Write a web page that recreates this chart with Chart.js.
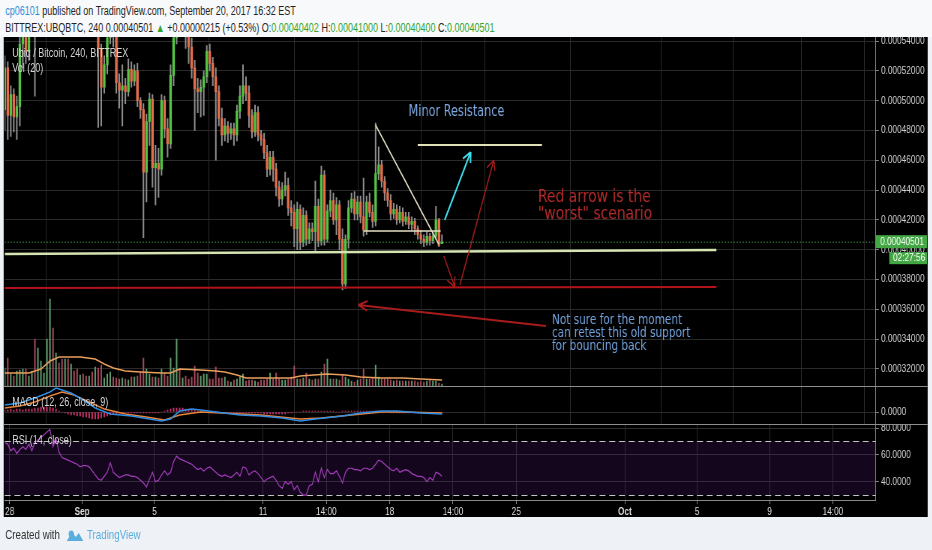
<!DOCTYPE html>
<html>
<head>
<meta charset="utf-8">
<script src="https://cdn.jsdelivr.net/npm/chart.js@4.4.0/dist/chart.umd.min.js"></script>
<style>
  body { margin: 0; width: 932px; height: 550px; background: #eef1f5; position: relative; overflow: hidden; }
  /* a captura original é comprimida na horizontal: desenhamos largo e comprimimos */
  #tela { position: absolute; left: 0; top: 0; width: 1243px; height: 550px; transform: scaleX(0.75); transform-origin: 0 0;
          font-family: "Liberation Sans", Arial, sans-serif; }
  #cabecalho { position: absolute; left: 0; top: 0; width: 1243px; height: 37px; background: #f8f9fb; }
  #cabecalho div { position: absolute; left: 7px; font-size: 12px; color: #222; white-space: nowrap; }
  .autor { color: #2a8fd8; }
  .verde { color: #2fa52f; }
  #painel { position: absolute; left: 5.33px; top: 37px; width: 1232px; height: 480px; background: #000; }
  #painel canvas { position: absolute; left: 0; }
  .legenda { position: absolute; left: 11px; font-size: 12px; color: #d4d4d4; white-space: nowrap; }
  #rodape { position: absolute; left: 7px; top: 527px; font-size: 13px; color: #333; white-space: nowrap; }
  #rodape span { color: #5aaede; }
  #rodape svg { vertical-align: -3px; margin: 0 4px 0 8px; }
</style>
</head>
<body>
<div id="tela">
  <div id="cabecalho">
    <div style="top:4px"><span class="autor">cp06101</span> published on TradingView.com, September 20, 2017 16:32 EST</div>
    <div style="top:21px">BITTREX:UBQBTC, 240 0.00040501 <span class="verde">▲</span> +0.00000215 (+0.53%) O:<span class="verde">0.00040402</span> H:<span class="verde">0.00041000</span> L:<span class="verde">0.00040400</span> C:<span class="verde">0.00040501</span></div>
  </div>

  <div id="painel">
    <canvas id="graficoPreco" width="1232" height="349" style="top:0"></canvas>
    <canvas id="graficoMacd" width="1232" height="38" style="top:349px"></canvas>
    <canvas id="graficoRsi" width="1232" height="93" style="top:387px"></canvas>
    <div class="legenda" style="top:9px">Ubiq / Bitcoin, 240, BITTREX</div>
    <div class="legenda" style="top:24px">Vol (20)</div>
    <div class="legenda" style="top:358px">MACD (12, 26, close, 9)</div>
    <div class="legenda" style="top:396px">RSI (14, close)</div>
  </div>

  <div id="rodape">Created with<svg width="24" height="14" viewBox="0 0 24 14"><path d="M1 13 L8 4 L13 9 L17 5 L23 13 Z" fill="#5aaede"/><circle cx="7" cy="6" r="3.5" fill="#5aaede"/></svg><span>TradingView</span></div>
</div>

<script>
// 📅 Eixo de tempo: dias contados a partir de 28 de agosto (dia 0), candles de 4 horas
const INICIO = -0.276;
const diasTicks = [0, 4, 8, 14, 17.5, 21, 24.5, 28, 34, 38, 42, 45.5];
const rotulosTicks = ['28', 'Sep', '5', '11', '14:00', '18', '14:00', '25', 'Oct', '5', '9', '14:00'];

// 💰 Preços em satoshis (1e-8 BTC)
const ticksPreco = [32000, 34000, 36000, 38000, 40000, 42000, 44000, 46000, 48000, 50000, 52000, 54000];
const abertura = [
  49400,52200,49000,50400,48900,49600,53800,55200,53300,55500,
  56800,55600,57500,58600,59400,60800,61500,60500,61800,60200,
  59300,59800,58700,59200,58100,57600,58200,57300,56800,57400,
  56500,56900,53500,50900,52400,54200,55500,54600,51200,50700,
  51000,50600,52100,51300,52000,50000,49400,45200,48600,50100,
  45500,45800,45400,50000,48100,47100,51700,54200,56000,55200,
  56500,54800,53600,52200,50800,50600,50900,51600,53300,52500,
  51600,50600,48800,47700,48300,47800,48100,47700,49300,50300,
  51000,50500,49000,47900,49200,47700,47400,46500,45400,46200,
  45400,44200,43400,44000,44300,42800,42500,41400,42700,40500,
  42300,40700,41400,41200,42900,40600,45000,40700,42600,43300,
  42000,43000,40700,37700,40700,42800,43400,42400,43200,42200,
  41300,43200,42500,41900,45100,45700,44600,43800,43300,42400,
  42700,42000,42500,41900,42200,41700,41900,41400,41000,40700,
  40500,40900,40600,40900,42000,40402
];
const maxima = [
  53000,52600,51000,50800,50300,54800,56000,56500,57000,58000,
  58500,58200,59300,60100,61600,62400,62000,62800,62300,60900,
  60500,60200,59900,59600,58600,58800,58500,57700,57900,57800,
  57400,57500,53800,53000,55000,56500,56200,55000,51800,52400,
  51500,52800,52600,52400,52500,50200,49800,49100,50500,50400,
  47000,46800,50400,50300,48800,52400,55500,57000,57500,57200,
  57000,55200,54200,52700,51500,51400,52000,53700,53800,52900,
  52200,51000,49500,48800,48600,48500,48500,49700,51000,52400,
  51600,51000,49400,49700,49600,48000,47800,47000,46600,46600,
  45800,44600,44500,45200,44800,43300,43000,43200,43000,42800,
  42600,41800,41800,44600,43400,45600,45300,43000,44000,43800,
  43500,43300,41400,41000,43300,43800,43900,43600,43600,44800,
  43600,43800,43000,48500,46900,46000,44900,44100,43700,43100,
  43000,42900,42800,42500,42500,42200,42100,41600,41300,41000,
  41200,41100,41200,42900,42100,41000
];
const minima = [
  48000,47400,47600,47900,47400,48300,52200,52500,52700,54800,
  50300,55000,56800,57900,58800,60000,59700,60100,59600,58700,
  58800,58100,58300,57600,57000,57200,56800,56200,56400,55900,
  55800,48200,48300,50500,51800,53800,53600,50500,49500,48300,
  49800,50300,50900,51000,49600,48800,40800,43200,47000,44200,
  43000,43500,45000,47500,46200,46800,51000,53800,54600,54800,
  53500,52500,51500,48000,49200,48900,49000,51200,52000,51000,
  46000,48300,47000,47300,47200,47400,47000,47300,48800,49800,
  50000,48200,47500,47600,47300,47000,46100,44900,45000,44600,
  43600,42900,43000,43600,42300,41600,40200,40000,40000,40200,
  40300,40400,40600,39800,40200,40300,40300,40500,42200,41700,
  41000,40000,37300,37400,40100,42500,42000,42000,41800,40900,
  41000,42200,41500,41600,44700,44200,43300,42900,42000,42100,
  41700,41800,41600,41700,41400,41300,41000,40700,40400,40200,
  40300,40300,40400,40700,40200,40400
];
const fechamento = [
  52200,49000,50400,48900,49600,53800,55200,53300,55500,56800,
  55600,57500,58600,59400,60800,61500,60500,61800,60200,59300,
  59800,58700,59200,58100,57600,58200,57300,56800,57400,56500,
  56900,53500,50900,52400,54200,55500,54600,51200,50700,51000,
  50600,52100,51300,52000,50000,49400,45200,48600,50100,45500,
  45800,45400,50000,48100,47100,51700,54200,56000,55200,56500,
  54800,53600,52200,50800,50600,50900,51600,53300,52500,51600,
  50600,48800,47700,48300,47800,48100,47700,49300,50300,51000,
  50500,49000,47900,49200,47700,47400,46500,45400,46200,45400,
  44200,43400,44000,44300,42800,42500,41400,42700,40500,42300,
  40700,41400,41200,42900,40600,45000,40700,42600,43300,42000,
  43000,40700,37700,40700,42800,43400,42400,43200,42200,41300,
  43200,42500,41900,45100,45700,44600,43800,43300,42400,42700,
  42000,42500,41900,42200,41700,41900,41400,41000,40700,40500,
  40900,40600,40900,42000,40286,40501
];
const ultimoPreco = 40501;

// 📊 Volume e média de 20 períodos
const volume = [
  18,28,12,10,15,16,17,17,10,15, 47,38,25,13,47,87,58,33,23,27,
  27,27,22,15,17,11,12,10,10,14, 19,18,21,8,12,14,9,8,7,8,
  7,6,9,9,10,14,28,17,12,9, 9,8,17,13,10,28,18,47,17,8,
  10,7,9,20,13,10,12,12,7,7, 19,8,8,9,5,4,6,7,9,12,
  5,6,6,5,4,6,6,7,13,7, 13,7,6,6,7,9,20,7,7,8,
  13,7,6,7,7,14,22,27,7,7, 7,6,11,9,7,5,4,6,7,17,
  7,7,8,21,9,7,7,7,6,5, 6,5,5,5,5,5,5,4,5,4,
  5,6,5,5,3,2
];
const mediaVolIdx = [0, 8, 12, 15, 18, 25, 30, 33, 36, 40, 45, 52, 55, 58, 65, 70, 73, 77, 80, 85, 95, 98, 107, 113, 118, 125, 132, 138, 145];
const mediaVol = [13, 13, 17, 25, 29, 29, 27, 22, 18, 15, 14, 13, 13, 17, 16, 15, 14, 11, 8, 8, 8, 10, 12, 11, 9, 8, 8, 7, 6];

// 📉 MACD (unidades de 1e-6 BTC)
const macdIdx = [0, 5, 10, 15, 17, 22, 26, 30, 35, 42, 48, 52, 55, 58, 62, 65, 70, 78, 85, 92, 98, 103, 112, 118, 125, 130, 138, 145];
const macdLinha = [7, 9, 14, 20, 24, 19, 12, 4, -2, -4, -7, -9, -7, 1, 3, 2, 0, -3, -4, -6, -9, -7, -4, -1, 1, 1, -1, -2];
const sinalIdx = [0, 5, 10, 15, 19, 23, 28, 33, 40, 47, 53, 58, 65, 72, 85, 98, 105, 115, 125, 132, 145];
const sinalLinha = [4, 6, 10, 16, 20, 17, 10, 3, -2, -5, -8, -3, 0, -1, -3, -7, -6, -3, 0, 0, -1];
const histograma = [
  2,2,3,2,3,3,2,3,3,3, 4,4,5,5,5,5,4,3,1,0,
  -1,-2,-3,-3,-4,-4,-5,-5,-6,-7, -7,-7,-6,-5,-4,-3,-2,-2,-1,-1,
  -1,-1,-1,-1,-1,-1,-1,-1,-1,-1, -1,-1,0,1,2,3,4,4,4,4,
  3,3,2,2,1,1,0,0,-1,0, 1,0,-1,-1,-1,-1,-1,-1,-1,-1,
  -1,-1,-1,-1,-1,-1,-2,-2,-2,-2, -2,-2,-2,-2,-1,-1,0,0,0,1,
  1,1,1,1,1,1,1,1,1,1, 0,0,1,1,1,1,1,1,1,1,
  1,1,1,1,1,0,0,0,-1,-1, -1,-1,-1,-1,-1,-1,-1,-1,-1,-1,
  -1,-1,-1,-1,-1,-1
];
const ticksMacd = [0];

// 🟣 RSI (14)
const rsi = [
  69,68,63,65,61,64,66,64,68,63, 69,71,73,75,77,79,66,72,62,58,
  57,56,55,54,53,51,52,52,51,48, 45,42,41,44,47,54,47,45,43,44,
  45,45,44,44,43,41,39,36,42,47, 40,41,45,48,45,47,55,59,57,56,
  55,54,53,51,49,50,48,50,51,49, 47,45,44,45,44,43,45,47,44,51,
  50,45,47,48,46,43,40,42,43,44, 41,37,35,40,38,40,34,37,32,30,
  30,37,38,47,40,50,43,49,46,46, 48,44,39,47,50,50,49,49,48,50,
  50,49,50,53,56,55,53,51,49,48, 50,47,48,49,48,46,45,44,44,43,
  40,43,41,47,46,44
];
const ticksRsi = [40, 60, 80];

// ✏️ Desenhos do autor em coordenadas (dia, preço)
const desenhos = [
  { de: [-0.28, 39707], ate: [39.06, 39976], cor: '#d6e4b2', largura: 2.5 },
  { de: [-0.28, 37426], ate: [39.06, 37493], cor: '#b3141a', largura: 2 },
  { de: [20.22, 48364], ate: [23.71, 40379], cor: '#e6e0c4', largura: 1.5 },
  { de: [19.56, 41251], ate: [23.82, 41251], cor: '#e6e0c4', largura: 1.5 },
  { de: [22.55, 47022], ate: [29.42, 47022], cor: '#e2e2b8', largura: 2 },
  { de: [24.04, 41989], ate: [25.48, 46552], cor: '#3fe0f0', largura: 2, seta: true },
  { de: [23.99, 39573], ate: [24.6, 37493], cor: '#a81c1c', largura: 1.5, seta: true },
  { de: [24.88, 37627], ate: [26.76, 46015], cor: '#a81c1c', largura: 1.5, seta: true },
  { de: [29.64, 34877], ate: [19.28, 36286], cor: '#a81c1c', largura: 2, seta: true }
];
const textos = [
  { texto: 'Minor Resistance', pos: [22.05, 49236], cor: '#7ea8e0', tam: 15 },
  { texto: 'Red arrow is the', pos: [29.2, 43532], cor: '#b42a2a', tam: 18.5 },
  { texto: '"worst" scenario', pos: [29.2, 42392], cor: '#b42a2a', tam: 18.5 },
  { texto: 'Not sure for the moment', pos: [29.97, 35279], cor: '#72a2dc', tam: 14 },
  { texto: 'can retest this old support', pos: [29.97, 34407], cor: '#72a2dc', tam: 14 },
  { texto: 'for bouncing back', pos: [29.97, 33535], cor: '#72a2dc', tam: 14 }
];

const FONTE = '"Liberation Sans", Arial, sans-serif';
const FONTE_TEXTO = '"DejaVu Sans", Verdana, sans-serif';
const GRADE = '#2b2b2b';
const EIXO = '#8a8a8a';
const VERDE = '#55c444';
const VERMELHO = '#e46e4c';

const dias = abertura.map((_, i) => INICIO + i / 6);
const sobe = abertura.map((a, i) => fechamento[i] >= a);

// eixo x comum aos três painéis
function eixoX(mostrarRotulos) {
  return {
    type: 'linear', min: -0.276, max: 47.87, offset: false,
    afterBuildTicks: s => { s.ticks = diasTicks.map(v => ({ value: v })); },
    afterFit: s => { s.height = mostrarRotulos ? 17 : 0; s.paddingLeft = 0; s.paddingRight = 0; },
    grid: { color: GRADE, drawTicks: mostrarRotulos, tickLength: 4, tickColor: EIXO },
    border: { display: mostrarRotulos, color: EIXO },
    ticks: {
      display: mostrarRotulos, autoSkip: false, maxRotation: 0, minRotation: 0, padding: 1, color: '#dcdcdc',
      font: ctx => ({ family: FONTE, size: 11, weight: (ctx.index === 1 || ctx.index === 8) ? 'bold' : 'normal' }),
      callback: (v, i) => rotulosTicks[i]
    }
  };
}

// eixo y à direita com largura fixa
function eixoY(min, max, ticks, formato) {
  return {
    position: 'right', min: min, max: max,
    afterBuildTicks: s => { s.ticks = ticks.map(v => ({ value: v })); },
    afterFit: s => { s.width = 69.3; s.paddingTop = 0; s.paddingBottom = 0; },
    grid: { color: GRADE, tickLength: 4, tickColor: EIXO },
    border: { color: EIXO },
    ticks: { color: '#d0d0d0', padding: 3, font: { family: FONTE, size: 11 }, callback: formato }
  };
}

const opcoesBase = {
  responsive: false, animation: false, events: [],
  layout: { padding: { left: 1.33, right: 0, top: 0, bottom: 0 }, autoPadding: false },
  plugins: { legend: { display: false }, tooltip: { enabled: false } }
};

// linha divisória entre painéis
const pluginDivisoria = {
  id: 'divisoria',
  afterDraw(chart) {
    const ctx = chart.ctx;
    ctx.save();
    ctx.strokeStyle = '#8e8e8e';
    ctx.lineWidth = 1;
    ctx.beginPath();
    ctx.moveTo(0, 0.5);
    ctx.lineTo(chart.width, 0.5);
    ctx.stroke();
    ctx.restore();
  }
};

// desenha linhas, setas e textos do autor + etiqueta de preço
const pluginDesenhos = {
  id: 'desenhos',
  afterDatasetsDraw(chart) {
    const { ctx, chartArea: area, scales: { x, y } } = chart;
    ctx.save();
    ctx.beginPath();
    ctx.rect(area.left, area.top, area.width, area.height);
    ctx.clip();

    // linha pontilhada do último preço
    const yUlt = y.getPixelForValue(ultimoPreco);
    ctx.strokeStyle = '#4caf50';
    ctx.lineWidth = 1;
    ctx.setLineDash([1.5, 2.5]);
    ctx.beginPath();
    ctx.moveTo(area.left, yUlt);
    ctx.lineTo(area.right, yUlt);
    ctx.stroke();
    ctx.setLineDash([]);

    desenhos.forEach(d => {
      const x1 = x.getPixelForValue(d.de[0]), y1 = y.getPixelForValue(d.de[1]);
      const x2 = x.getPixelForValue(d.ate[0]), y2 = y.getPixelForValue(d.ate[1]);
      ctx.strokeStyle = d.cor;
      ctx.lineWidth = d.largura;
      ctx.beginPath();
      ctx.moveTo(x1, y1);
      ctx.lineTo(x2, y2);
      if (d.seta) {
        const ang = Math.atan2(y2 - y1, x2 - x1);
        [0.45, -0.45].forEach(a => {
          ctx.moveTo(x2, y2);
          ctx.lineTo(x2 - 13 * Math.cos(ang + a), y2 - 11 * Math.sin(ang + a));
        });
      }
      ctx.stroke();
    });

    ctx.textBaseline = 'middle';
    textos.forEach(t => {
      ctx.font = t.tam + 'px ' + FONTE_TEXTO;
      ctx.fillStyle = t.cor;
      ctx.fillText(t.texto, x.getPixelForValue(t.pos[0]), y.getPixelForValue(t.pos[1]));
    });
    ctx.restore();

    // etiquetas verdes no eixo de preço
    ctx.save();
    ctx.fillStyle = '#43a843';
    ctx.fillRect(area.right, yUlt - 7, chart.width - area.right - 1, 13);
    ctx.fillRect(area.right + 18, yUlt + 10, chart.width - area.right - 19, 12);
    ctx.fillStyle = '#ffffff';
    ctx.font = '11px ' + FONTE;
    ctx.textBaseline = 'middle';
    ctx.fillText((ultimoPreco / 1e8).toFixed(8), area.right + 6, yUlt);
    ctx.fillText('02:27:56', area.right + 23, yUlt + 16);
    ctx.restore();
  }
};

// 🕯️ Gráfico de preço com volume sobreposto
new Chart(document.getElementById('graficoPreco'), {
  type: 'bar',
  data: {
    datasets: [
      {
        data: dias.map((d, i) => ({ x: d, y: [abertura[i], fechamento[i]] })),
        backgroundColor: sobe.map(s => s ? VERDE : VERMELHO),
        barThickness: 2.7, grouped: false, order: 0, yAxisID: 'y'
      },
      {
        data: dias.map((d, i) => ({ x: d, y: [minima[i], maxima[i]] })),
        backgroundColor: '#8f8f8f',
        barThickness: 1.33, grouped: false, order: 1, yAxisID: 'y'
      },
      {
        type: 'line',
        data: mediaVolIdx.map((k, j) => ({ x: INICIO + k / 6, y: mediaVol[j] })),
        borderColor: '#eaa05c', borderWidth: 1.5, pointRadius: 0, order: 2, yAxisID: 'yv'
      },
      {
        data: dias.map((d, i) => ({ x: d, y: volume[i] })),
        backgroundColor: sobe.map(s => s ? '#5f9c6c' : '#a54a5c'),
        barThickness: 1.33, grouped: false, order: 3, yAxisID: 'yv'
      }
    ]
  },
  options: Object.assign({}, opcoesBase, {
    scales: {
      x: eixoX(false),
      y: eixoY(30850, 54270, ticksPreco, v => (v / 1e8).toFixed(8)),
      yv: { display: false, min: 0, max: 349 }
    }
  }),
  plugins: [pluginDesenhos]
});

// 📉 Painel MACD
new Chart(document.getElementById('graficoMacd'), {
  type: 'bar',
  data: {
    datasets: [
      {
        type: 'line',
        data: macdIdx.map((k, j) => ({ x: INICIO + k / 6, y: macdLinha[j] })),
        borderColor: '#2f8fe6', borderWidth: 1.5, pointRadius: 0, order: 0
      },
      {
        type: 'line',
        data: sinalIdx.map((k, j) => ({ x: INICIO + k / 6, y: sinalLinha[j] })),
        borderColor: '#e8843a', borderWidth: 1.5, pointRadius: 0, order: 1
      },
      {
        data: dias.map((d, i) => ({ x: d, y: histograma[i] })),
        backgroundColor: '#c8306c', barThickness: 1.33, grouped: false, order: 2
      }
    ]
  },
  options: Object.assign({}, opcoesBase, {
    scales: {
      x: eixoX(false),
      y: eixoY(-12, 26, ticksMacd, v => (v / 1e6).toFixed(4))
    }
  }),
  plugins: [pluginDivisoria]
});

// 🟣 Painel RSI com faixa 70/30
const pluginFaixaRsi = {
  id: 'faixaRsi',
  beforeDatasetsDraw(chart) {
    const { ctx, chartArea: area, scales: { y } } = chart;
    const y70 = y.getPixelForValue(70), y30 = y.getPixelForValue(30);
    ctx.save();
    ctx.fillStyle = 'rgba(120, 40, 170, 0.17)';
    ctx.fillRect(area.left, y70, area.width, y30 - y70);
    ctx.strokeStyle = '#c4c4c4';
    ctx.lineWidth = 1;
    ctx.setLineDash([8, 5]);
    [y70, y30].forEach(v => {
      ctx.beginPath();
      ctx.moveTo(area.left, Math.round(v) + 0.5);
      ctx.lineTo(area.right, Math.round(v) + 0.5);
      ctx.stroke();
    });
    ctx.restore();
  }
};

new Chart(document.getElementById('graficoRsi'), {
  type: 'line',
  data: {
    datasets: [{
      data: dias.map((d, i) => ({ x: d, y: rsi[i] })),
      borderColor: '#a43cbc', borderWidth: 1.2, pointRadius: 0, tension: 0
    }]
  },
  options: Object.assign({}, opcoesBase, {
    scales: {
      x: eixoX(true),
      y: eixoY(26.3, 83, ticksRsi, v => v.toFixed(4))
    }
  }),
  plugins: [pluginFaixaRsi, pluginDivisoria]
});
</script>
</body>
</html>
